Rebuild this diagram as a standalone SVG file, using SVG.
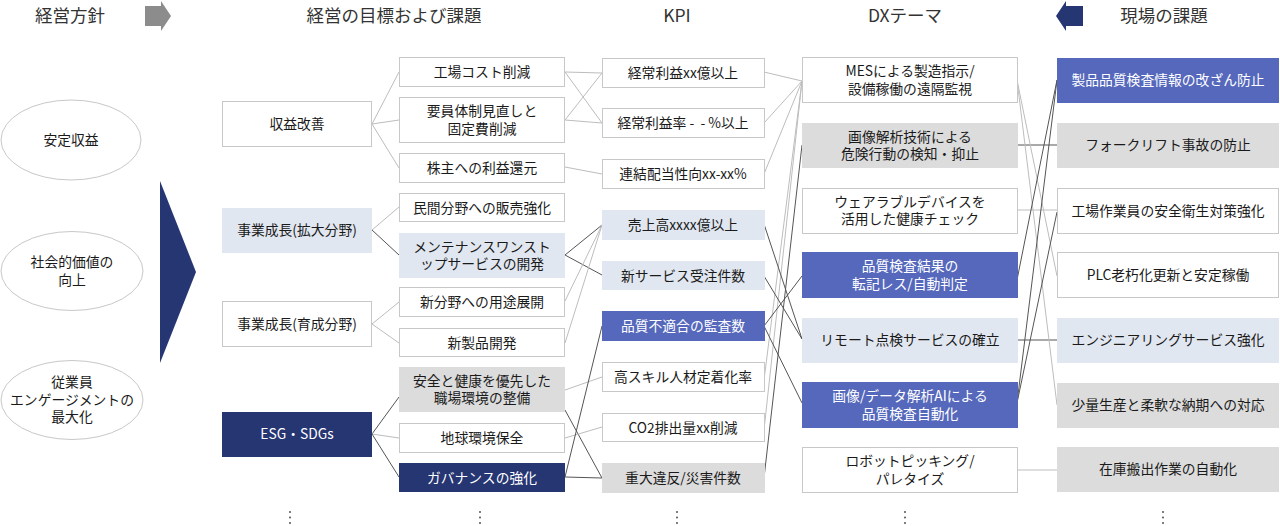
<svg xmlns="http://www.w3.org/2000/svg" width="1280" height="526" viewBox="0 0 1280 526">
<style>
.b{fill:#fff;stroke:#c8c8c8;stroke-width:1}
.g{fill:#dcdcdc}
.lb{fill:#e1e7f0}
.nv{fill:#263672}
.md{fill:#5568bb}
.el{fill:#fff;stroke:#c8c8c8;stroke-width:1}
text{font-family:"Noto Sans CJK JP","Noto Sans",sans-serif;font-size:13.8px;fill:#1a1a1a;text-anchor:middle}
text.w{fill:#fff}
text.h{font-size:17.5px;fill:#333}
.lt{stroke:#bdbdbd;stroke-width:1;fill:none}
.dk{stroke:#555;stroke-width:1;fill:none}
.dot{fill:#555}
</style>
<rect width="1280" height="526" fill="#fff"/>
<g id="headers">
<text class="h" x="70" y="22">経営方針</text>
<polygon points="145,6 161,6 161,1 171,16 161,31 161,26 145,26" fill="#8c8c8c"/>
<text class="h" x="394" y="22">経営の目標および課題</text>
<text class="h" x="677" y="22">KPI</text>
<text class="h" x="905" y="22">DXテーマ</text>
<polygon points="1083,6 1066,6 1066,1 1056,16 1066,31 1066,26 1083,26" fill="#263672"/>
<text class="h" x="1164" y="22">現場の課題</text>
</g>
<g id="connectors">
<line class="lt" x1="372" y1="124" x2="399" y2="72"/>
<line class="lt" x1="372" y1="124" x2="399" y2="120"/>
<line class="lt" x1="372" y1="124" x2="399" y2="168"/>
<line class="lt" x1="372" y1="230" x2="399" y2="207"/>
<line class="dk" x1="372" y1="230" x2="399" y2="255"/>
<line class="lt" x1="372" y1="324" x2="399" y2="302"/>
<line class="lt" x1="372" y1="324" x2="399" y2="343"/>
<line class="dk" x1="372" y1="434" x2="399" y2="397"/>
<line class="lt" x1="372" y1="434" x2="399" y2="438"/>
<line class="dk" x1="372" y1="434" x2="399" y2="477"/>
<line class="lt" x1="565" y1="72" x2="602" y2="73"/>
<line class="lt" x1="565" y1="72" x2="602" y2="123"/>
<line class="lt" x1="565" y1="120" x2="602" y2="73"/>
<line class="lt" x1="565" y1="120" x2="602" y2="123"/>
<line class="lt" x1="565" y1="167" x2="602" y2="174"/>
<line class="dk" x1="565" y1="255" x2="602" y2="225"/>
<line class="dk" x1="565" y1="255" x2="602" y2="275"/>
<line class="lt" x1="565" y1="301" x2="602" y2="225"/>
<line class="lt" x1="565" y1="343" x2="602" y2="225"/>
<line class="lt" x1="565" y1="390" x2="602" y2="377"/>
<line class="dk" x1="565" y1="410" x2="602" y2="478"/>
<line class="lt" x1="565" y1="438" x2="602" y2="427"/>
<line class="dk" x1="565" y1="477" x2="602" y2="478"/>
<line class="dk" x1="565" y1="477" x2="602" y2="326"/>
<line class="lt" x1="764" y1="72" x2="802" y2="81"/>
<line class="lt" x1="764" y1="123" x2="802" y2="81"/>
<line class="lt" x1="764" y1="174" x2="802" y2="81"/>
<line class="lt" x1="764" y1="380" x2="802" y2="81"/>
<line class="lt" x1="764" y1="430" x2="802" y2="81"/>
<line class="dk" x1="764" y1="224" x2="802" y2="339"/>
<line class="dk" x1="764" y1="276" x2="802" y2="339"/>
<line class="dk" x1="764" y1="326" x2="802" y2="276"/>
<line class="dk" x1="764" y1="326" x2="802" y2="403"/>
<line class="dk" x1="764" y1="478" x2="802" y2="145"/>
<line class="dk" x1="1017" y1="145" x2="1057" y2="145"/>
<line class="lt" x1="1017" y1="210" x2="1057" y2="210"/>
<line class="dk" x1="1017" y1="340" x2="1057" y2="340"/>
<line class="lt" x1="1017" y1="470" x2="1057" y2="470"/>
<line class="lt" x1="1017" y1="80" x2="1057" y2="276"/>
<line class="lt" x1="1017" y1="80" x2="1057" y2="405"/>
<line class="dk" x1="1017" y1="280" x2="1057" y2="80"/>
<line class="dk" x1="1017" y1="403" x2="1057" y2="80"/>
<line class="dk" x1="1017" y1="403" x2="1057" y2="212"/>
</g>
<g id="policy-1"><ellipse class="el" cx="71" cy="140" rx="70" ry="40"/><text x="71" y="145">安定収益</text></g>
<g id="policy-2"><ellipse class="el" cx="72" cy="271" rx="71" ry="39.5"/><text x="72" y="267">社会的価値の</text><text x="72" y="285">向上</text></g>
<g id="policy-3"><ellipse class="el" cx="72" cy="400" rx="71" ry="39.5"/><text x="72" y="387">従業員</text><text x="72" y="404.5">エンゲージメントの</text><text x="72" y="422">最大化</text></g>
<g id="big-arrow"><polygon points="160,181 196,272 160,363" fill="#263672"/></g>
<g id="goal-1"><rect class="b" x="222.5" y="101.5" width="149" height="45"/><text x="297" y="129">収益改善</text></g>
<g id="goal-2"><rect class="lb" x="222" y="208" width="150" height="45"/><text x="297" y="235">事業成長(拡大分野)</text></g>
<g id="goal-3"><rect class="b" x="222.5" y="301.5" width="149" height="45"/><text x="297" y="329">事業成長(育成分野)</text></g>
<g id="goal-4"><rect class="nv" x="222" y="412" width="150" height="45"/><text class="w" x="297" y="439">ESG・SDGs</text></g>
<g id="task-1"><rect class="b" x="399.5" y="57.5" width="165" height="29"/><text x="482" y="77">工場コスト削減</text></g>
<g id="task-2"><rect class="b" x="399.5" y="97.5" width="165" height="45"/><text x="482" y="116">要員体制見直しと</text><text x="482" y="133.5">固定費削減</text></g>
<g id="task-3"><rect class="b" x="399.5" y="153.5" width="165" height="29"/><text x="482" y="173">株主への利益還元</text></g>
<g id="task-4"><rect class="b" x="399.5" y="193.5" width="165" height="28"/><text x="482" y="212.5">民間分野への販売強化</text></g>
<g id="task-5"><rect class="lb" x="399" y="233" width="166" height="45"/><text x="482" y="251.5">メンテナンスワンスト</text><text x="482" y="269">ップサービスの開発</text></g>
<g id="task-6"><rect class="b" x="399.5" y="287.5" width="165" height="29"/><text x="482" y="307">新分野への用途展開</text></g>
<g id="task-7"><rect class="b" x="399.5" y="328.5" width="165" height="28"/><text x="482" y="347.5">新製品開発</text></g>
<g id="task-8"><rect class="g" x="399" y="367" width="166" height="45"/><text x="482" y="385.5">安全と健康を優先した</text><text x="482" y="403">職場環境の整備</text></g>
<g id="task-9"><rect class="b" x="399.5" y="423.5" width="165" height="29"/><text x="482" y="443">地球環境保全</text></g>
<g id="task-10"><rect class="nv" x="399" y="463" width="166" height="29"/><text class="w" x="482" y="482.5">ガバナンスの強化</text></g>
<g id="kpi-1"><rect class="b" x="602.5" y="58.5" width="162" height="29"/><text x="683" y="78">経常利益xx億以上</text></g>
<g id="kpi-2"><rect class="b" x="602.5" y="108.5" width="162" height="29"/><text x="683" y="128" xml:space="preserve">経常利益率 -  - %以上</text></g>
<g id="kpi-3"><rect class="b" x="602.5" y="159.5" width="162" height="29"/><text x="683" y="179">連結配当性向xx-xx%</text></g>
<g id="kpi-4"><rect class="lb" x="602" y="210" width="163" height="30"/><text x="683" y="230">売上高xxxx億以上</text></g>
<g id="kpi-5"><rect class="lb" x="602" y="261" width="163" height="29"/><text x="683" y="280.5">新サービス受注件数</text></g>
<g id="kpi-6"><rect class="md" x="602" y="311" width="163" height="30"/><text class="w" x="683" y="331">品質不適合の監査数</text></g>
<g id="kpi-7"><rect class="b" x="602.5" y="362.5" width="162" height="29"/><text x="683" y="382">高スキル人材定着化率</text></g>
<g id="kpi-8"><rect class="b" x="602.5" y="413.5" width="162" height="28"/><text x="683" y="432.5">CO2排出量xx削減</text></g>
<g id="kpi-9"><rect class="g" x="602" y="463" width="163" height="30"/><text x="683" y="483">重大違反/災害件数</text></g>
<g id="dx-1"><rect class="b" x="802.5" y="57.5" width="215" height="45"/><text x="910" y="76">MESによる製造指示/</text><text x="910" y="93.5">設備稼働の遠隔監視</text></g>
<g id="dx-2"><rect class="g" x="802" y="123" width="216" height="45"/><text x="910" y="141.5">画像解析技術による</text><text x="910" y="159">危険行動の検知・抑止</text></g>
<g id="dx-3"><rect class="b" x="802.5" y="188.5" width="215" height="45"/><text x="910" y="206.5">ウェアラブルデバイスを</text><text x="910" y="224">活用した健康チェック</text></g>
<g id="dx-4"><rect class="md" x="802" y="252" width="216" height="46"/><text class="w" x="910" y="271">品質検査結果の</text><text class="w" x="910" y="288.5">転記レス/自動判定</text></g>
<g id="dx-5"><rect class="lb" x="802" y="318" width="216" height="45"/><text x="910" y="345">リモート点検サービスの確立</text></g>
<g id="dx-6"><rect class="md" x="802" y="382" width="216" height="46"/><text class="w" x="910" y="401">画像/データ解析AIによる</text><text class="w" x="910" y="418.5">品質検査自動化</text></g>
<g id="dx-7"><rect class="b" x="802.5" y="447.5" width="215" height="45"/><text x="910" y="466">ロボットピッキング/</text><text x="910" y="483.5">パレタイズ</text></g>
<g id="field-1"><rect class="md" x="1057" y="58" width="222" height="45"/><text class="w" x="1168" y="85">製品品質検査情報の改ざん防止</text></g>
<g id="field-2"><rect class="g" x="1057" y="123" width="222" height="45"/><text x="1168" y="150">フォークリフト事故の防止</text></g>
<g id="field-3"><rect class="b" x="1057.5" y="188.5" width="221" height="45"/><text x="1168" y="215.5">工場作業員の安全衛生対策強化</text></g>
<g id="field-4"><rect class="b" x="1057.5" y="252.5" width="221" height="45"/><text x="1168" y="279.5">PLC老朽化更新と安定稼働</text></g>
<g id="field-5"><rect class="lb" x="1057" y="318" width="222" height="45"/><text x="1168" y="345">エンジニアリングサービス強化</text></g>
<g id="field-6"><rect class="g" x="1057" y="383" width="222" height="45"/><text x="1168" y="410">少量生産と柔軟な納期への対応</text></g>
<g id="field-7"><rect class="g" x="1057" y="447" width="222" height="45"/><text x="1168" y="474">在庫搬出作業の自動化</text></g>
<g id="more">
<circle class="dot" cx="290" cy="512" r="1"/><circle class="dot" cx="290" cy="517.5" r="1"/><circle class="dot" cx="290" cy="523" r="1"/>
<circle class="dot" cx="480" cy="512" r="1"/><circle class="dot" cx="480" cy="517.5" r="1"/><circle class="dot" cx="480" cy="523" r="1"/>
<circle class="dot" cx="677" cy="512" r="1"/><circle class="dot" cx="677" cy="517.5" r="1"/><circle class="dot" cx="677" cy="523" r="1"/>
<circle class="dot" cx="905" cy="512" r="1"/><circle class="dot" cx="905" cy="517.5" r="1"/><circle class="dot" cx="905" cy="523" r="1"/>
<circle class="dot" cx="1163" cy="512" r="1"/><circle class="dot" cx="1163" cy="517.5" r="1"/><circle class="dot" cx="1163" cy="523" r="1"/>
</g>
</svg>
